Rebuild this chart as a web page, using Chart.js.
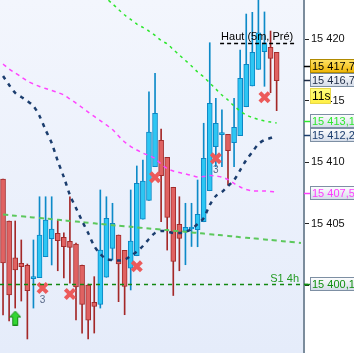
<!DOCTYPE html>
<html>
<head>
<meta charset="utf-8">
<script src="https://cdn.jsdelivr.net/npm/chart.js@4.4.1/dist/chart.umd.min.js"></script>
<style>
    html, body { margin: 0; padding: 0; background: #fff; overflow: hidden; }
    canvas { display: block; }
</style>
</head>
<body>
<canvas id="priceChart" width="354" height="353"></canvas>
<script>
// candles (one per 1-min bar)
const opens = [15408.65, 15405.24, 15402.24, 15401.80, 15401.64, 15400.55, 15400.64, 15402.34, 15403.80, 15404.24,
    15403.92, 15403.59, 15403.37, 15401.64, 15400.04, 15398.64, 15398.47, 15400.67, 15403.02, 15404.10,
    15402.86, 15401.40, 15402.42, 15405.38, 15406.92, 15409.65, 15411.79, 15410.41, 15407.98, 15404.97,
    15404.40, 15404.59, 15404.53, 15405.18, 15407.70, 15411.28, 15412.25, 15412.28, 15411.60, 15412.17,
    15414.52, 15416.21, 15417.56, 15418.99, 15419.35, 15418.94];
const highs = [15408.65, 15405.24, 15405.24, 15403.70, 15401.75, 15403.70, 15407.21, 15407.21, 15407.21, 15405.32,
    15404.27, 15407.21, 15403.45, 15401.67, 15400.12, 15400.72, 15407.76, 15407.21, 15406.68, 15404.10,
    15402.86, 15407.76, 15409.71, 15410.19, 15415.74, 15417.24, 15412.71, 15410.41, 15407.98, 15407.21,
    15406.68, 15406.68, 15408.57, 15413.18, 15419.72, 15415.21, 15414.26, 15412.28, 15415.21, 15419.13,
    15422.05, 15422.19, 15424.00, 15422.22, 15420.67, 15418.94];
const lows = [15397.61, 15397.12, 15398.17, 15398.74, 15395.66, 15398.17, 15400.64, 15402.34, 15401.67, 15401.20,
    15400.61, 15400.20, 15397.20, 15396.14, 15395.66, 15396.14, 15398.17, 15400.67, 15402.07, 15398.69,
    15397.63, 15399.64, 15402.42, 15405.38, 15406.92, 15409.65, 15405.18, 15402.88, 15399.19, 15401.20,
    15401.69, 15403.17, 15403.15, 15405.18, 15407.70, 15409.65, 15409.65, 15408.16, 15409.65, 15412.17,
    15414.52, 15416.21, 15417.56, 15416.18, 15415.66, 15414.20];
const closes = [15401.83, 15399.23, 15401.26, 15401.53, 15399.58, 15400.72, 15404.10, 15405.32, 15404.59, 15403.64,
    15403.15, 15403.10, 15399.88, 15398.46, 15397.18, 15398.30, 15402.88, 15405.46, 15405.05, 15401.75,
    15399.92, 15403.62, 15408.30, 15408.49, 15412.47, 15413.99, 15408.92, 15405.54, 15401.95, 15403.82,
    15404.73, 15404.75, 15405.78, 15410.33, 15414.80, 15413.18, 15412.36, 15410.95, 15412.85, 15416.83,
    15417.97, 15418.94, 15420.53, 15419.72, 15418.45, 15416.64];

// indicators
const maDark = [15417.02, 15416.29, 15415.64, 15415.31, 15414.99, 15414.58, 15413.77, 15412.63, 15411.58, 15410.11,
    15408.81, 15407.35, 15406.30, 15405.24, 15404.27, 15403.21, 15402.56, 15402.15, 15402.07, 15402.03,
    15402.10, 15402.40, 15402.76, 15403.21, 15403.78, 15404.27, 15404.43, 15404.39, 15404.27, 15404.27,
    15404.35, 15404.59, 15405.00, 15405.48, 15406.54, 15407.27, 15407.60, 15408.08, 15408.57, 15409.38,
    15410.19, 15410.84, 15411.49, 15411.82, 15411.98, 15412.18];
const bandUpper = [null, null, null, null, null, null, null, null, null, null,
    null, null, null, null, 15424.73, 15424.25, 15423.76, 15423.31, 15422.88, 15422.42,
    15421.97, 15421.61, 15421.24, 15420.96, 15420.67, 15420.31, 15419.90, 15419.62, 15419.17, 15418.72,
    15418.28, 15417.83, 15417.34, 15416.94, 15416.45, 15415.96, 15415.47, 15415.07, 15414.58, 15414.18,
    15413.85, 15413.65, 15413.48, 15413.36, 15413.28, 15413.20];
const maPink = [15417.99, 15417.59, 15417.26, 15416.94, 15416.61, 15416.37, 15416.17, 15416.00, 15415.84, 15415.68,
    15415.47, 15415.15, 15414.82, 15414.46, 15414.09, 15413.73, 15413.40, 15413.04, 15412.67, 15412.14,
    15411.66, 15411.29, 15411.01, 15410.76, 15410.56, 15410.32, 15409.87, 15409.50, 15409.30, 15409.18,
    15409.06, 15408.94, 15408.81, 15408.85, 15408.94, 15408.90, 15408.81, 15408.61, 15408.29, 15408.00,
    15407.80, 15407.68, 15407.68, 15407.68, 15407.64, 15407.60];
const trendGreen = [15405.76, 15405.72, 15405.67, 15405.62, 15405.58, 15405.53, 15405.49, 15405.44, 15405.39, 15405.34,
    15405.29, 15405.25, 15405.20, 15405.15, 15405.10, 15405.05, 15405.00, 15404.95, 15404.90, 15404.86,
    15404.82, 15404.77, 15404.72, 15404.68, 15404.63, 15404.59, 15404.54, 15404.50, 15404.45, 15404.41,
    15404.36, 15404.31, 15404.27, 15404.22, 15404.17, 15404.12, 15404.08, 15404.03, 15403.98, 15403.93,
    15403.88, 15403.84, 15403.79, 15403.74, 15403.70, 15403.65, 15403.60, 15403.56, 15403.51, 15403.46];

// signals
const sellAt = [6.5, 11, 22, 25, 35, 43];
const sellPrice = [15399.80, 15399.31, 15401.56, 15408.79, 15410.33, 15415.29];
const sellCount = ['3', '', '', '', '3', ''];
const buyAt = [2];
const buyPrice = [15397.36];

// axis + levels
const yTicks = [15400, 15405, 15410, 15415, 15420];
const yMin = 15394.52;
const yMax = 15423.19;
const slotCount = 50;
const s1Level = 15400.1;
const s1Label = 'S1 4h';
const hautLevel = 15419.67;
const hautLabel = 'Haut (5m, Pré)';
const hautFrom = 35.7;
const hautTo = 48.2;
const tagPrices = [15417.7, 15416.7, 15413.1, 15412.2, 15407.5, 15400.1];
const timerText = '11s';

const FONT = '"Liberation Sans", Arial, sans-serif';

const tagStyles = [
    { top: '#ffe46a', bottom: '#f0b400', border: '#b08a00', text: '#000000', tick: '#000000' },
    { top: '#ffffff', bottom: '#d3dbe8', border: '#7d8fa3', text: '#1d2b45', tick: '#1d2b45' },
    { top: '#ffffff', bottom: '#d3dbe8', border: '#7d8fa3', text: '#30e830', tick: '#30e830' },
    { top: '#ffffff', bottom: '#d3dbe8', border: '#7d8fa3', text: '#1b3d6e', tick: '#1b3d6e' },
    { top: '#ffffff', bottom: '#d3dbe8', border: '#7d8fa3', text: '#ff3cff', tick: '#ff3cff' },
    { top: '#ffffff', bottom: '#d3dbe8', border: '#7d8fa3', text: '#119011', tick: '#119011' }
];

function fmtPrice(v, dec) {
    const parts = v.toFixed(dec).split('.');
    const head = parts[0].replace(/\B(?=(\d{3})+(?!\d))/g, ' ');
    return parts.length > 1 ? head + ',' + parts[1] : head;
}

function makeArrow() {
    const c = document.createElement('canvas');
    c.width = 12;
    c.height = 15;
    const g = c.getContext('2d');
    g.beginPath();
    g.moveTo(6, 0.5);
    g.lineTo(11.5, 6.5);
    g.lineTo(8.5, 6.5);
    g.lineTo(8.5, 14.5);
    g.lineTo(3.5, 14.5);
    g.lineTo(3.5, 6.5);
    g.lineTo(0.5, 6.5);
    g.closePath();
    g.fillStyle = '#33d633';
    g.fill();
    g.strokeStyle = '#168a16';
    g.lineWidth = 1;
    g.stroke();
    return c;
}

const idx = opens.map((_, i) => i);
const isUp = idx.map(i => closes[i] >= opens[i]);

const backdrop = {
    id: 'backdrop',
    beforeDraw(chart) {
        const { ctx, chartArea: a } = chart;
        ctx.save();
        ctx.fillStyle = '#ffffff';
        ctx.fillRect(0, 0, chart.width, chart.height);
        const grad = ctx.createLinearGradient(0, a.top, 0, a.bottom);
        grad.addColorStop(0, '#f3f6fd');
        grad.addColorStop(1, '#e5ecfa');
        ctx.fillStyle = grad;
        ctx.fillRect(a.left, a.top, a.right - a.left, a.bottom - a.top);
        ctx.restore();
    }
};

const levels = {
    id: 'levels',
    afterDatasetsDraw(chart) {
        const { ctx, chartArea: a } = chart;
        const x = chart.scales.x;
        const y = chart.scales.y;
        ctx.save();

        // S1 4h support
        const ys = Math.round(y.getPixelForValue(s1Level)) + 0.5;
        ctx.setLineDash([4, 4]);
        ctx.lineWidth = 1.5;
        ctx.strokeStyle = '#118811';
        ctx.beginPath();
        ctx.moveTo(a.left, ys);
        ctx.lineTo(a.right + 6, ys);
        ctx.stroke();
        ctx.setLineDash([]);
        ctx.font = '11px ' + FONT;
        ctx.fillStyle = '#239a23';
        ctx.textAlign = 'right';
        ctx.textBaseline = 'alphabetic';
        ctx.fillText(s1Label, a.right - 5, ys - 3);

        // previous 5m high
        const yh = Math.round(y.getPixelForValue(hautLevel)) + 0.5;
        const x0 = x.getPixelForValue(hautFrom);
        const x1 = x.getPixelForValue(hautTo);
        ctx.setLineDash([4, 3]);
        ctx.strokeStyle = '#000000';
        ctx.lineWidth = 1.5;
        ctx.beginPath();
        ctx.moveTo(x0, yh);
        ctx.lineTo(x1, yh);
        ctx.stroke();
        ctx.setLineDash([]);
        ctx.fillStyle = '#000000';
        ctx.textAlign = 'left';
        ctx.fillText(hautLabel, x0 + 1, yh - 3.5);

        // counts under the sell marks
        ctx.font = '10px ' + FONT;
        ctx.fillStyle = '#5a6a8a';
        ctx.textAlign = 'center';
        ctx.textBaseline = 'middle';
        sellAt.forEach((s, i) => {
            if (!sellCount[i]) return;
            ctx.fillText(sellCount[i], x.getPixelForValue(s), y.getPixelForValue(sellPrice[i]) + 12);
        });
        ctx.restore();
    }
};

const priceTags = {
    id: 'priceTags',
    afterDraw(chart) {
        const { ctx, chartArea: a } = chart;
        const y = chart.scales.y;
        const boxH = 14;
        const left = a.right + 6;

        // push boxes apart, lowest price first
        const order = tagPrices.map((p, i) => i).sort((p, q) => tagPrices[p] - tagPrices[q]);
        const centers = [];
        let prev = null;
        order.forEach(i => {
            let c = y.getPixelForValue(tagPrices[i]);
            if (prev !== null && c > prev - boxH) c = prev - boxH;
            centers[i] = c;
            prev = c;
        });

        ctx.save();
        ctx.font = '11px ' + FONT;
        ctx.textBaseline = 'middle';
        ctx.textAlign = 'left';
        tagPrices.forEach((p, i) => {
            const st = tagStyles[i];
            const c = Math.round(centers[i]);
            ctx.strokeStyle = st.tick;
            ctx.lineWidth = 1.5;
            ctx.beginPath();
            ctx.moveTo(a.right, c + 0.5);
            ctx.lineTo(left, c + 0.5);
            ctx.stroke();
            const top = c - boxH / 2;
            const g = ctx.createLinearGradient(0, top, 0, top + boxH);
            g.addColorStop(0, st.top);
            g.addColorStop(1, st.bottom);
            ctx.fillStyle = g;
            ctx.fillRect(left, top, 60, boxH);
            ctx.strokeStyle = st.border;
            ctx.lineWidth = 1;
            ctx.strokeRect(left + 0.5, top + 0.5, 60, boxH - 1);
            ctx.fillStyle = st.text;
            ctx.fillText(fmtPrice(p, 1), left + 2, c + 0.5);
        });

        // bar countdown under the last price
        const tc = Math.round(centers[1]) + 16;
        const tt = tc - 8;
        const tg = ctx.createLinearGradient(0, tt, 0, tt + 16);
        tg.addColorStop(0, '#ffff80');
        tg.addColorStop(1, '#ffee40');
        ctx.fillStyle = tg;
        ctx.fillRect(left, tt, 21, 16);
        ctx.strokeStyle = '#e8d84a';
        ctx.strokeRect(left + 0.5, tt + 0.5, 20, 15);
        ctx.fillStyle = '#000000';
        ctx.font = '12px ' + FONT;
        ctx.fillText(timerText, left + 2, tc + 0.5);
        ctx.restore();
    }
};

new Chart(document.getElementById('priceChart'), {
    data: {
        datasets: [
            {
                type: 'line',
                data: trendGreen.map((v, i) => ({ x: i, y: v })),
                borderColor: '#5cc85c',
                borderWidth: 2,
                borderDash: [5, 4],
                pointRadius: 0,
                tension: 0.2,
                order: 3
            },
            {
                type: 'line',
                data: maPink.map((v, i) => ({ x: i, y: v })),
                borderColor: '#ff44ff',
                borderWidth: 1.5,
                borderDash: [4, 4],
                pointRadius: 0,
                tension: 0.3,
                order: 3
            },
            {
                type: 'line',
                data: bandUpper.map((v, i) => ({ x: i, y: v })),
                borderColor: '#2ee62e',
                borderWidth: 1.5,
                borderDash: [3, 4],
                pointRadius: 0,
                tension: 0.3,
                order: 3
            },
            {
                type: 'line',
                data: maDark.map((v, i) => ({ x: i, y: v })),
                borderColor: '#1b3d6e',
                borderWidth: 2.5,
                borderDash: [4, 5],
                pointRadius: 0,
                tension: 0.3,
                order: 2
            },
            {
                type: 'bar',
                data: idx.map(i => ({ x: i, y: [lows[i], highs[i]] })),
                backgroundColor: idx.map(i => isUp[i] ? '#0d8ac8' : '#a42828'),
                borderWidth: 0,
                barThickness: 1,
                grouped: false,
                order: 6
            },
            {
                type: 'bar',
                data: idx.map(i => ({ x: i, y: [opens[i], closes[i]] })),
                backgroundColor: idx.map(i => isUp[i] ? '#2dc6f3' : '#e06262'),
                borderColor: idx.map(i => isUp[i] ? '#0c86c4' : '#a22c2c'),
                borderWidth: 1,
                borderSkipped: false,
                barThickness: 5,
                minBarLength: 2,
                grouped: false,
                order: 5
            },
            {
                type: 'scatter',
                data: sellAt.map((s, i) => ({ x: s, y: sellPrice[i] })),
                pointStyle: 'crossRot',
                pointRadius: 6.5,
                pointBorderWidth: 4,
                pointBorderColor: '#ec5a5a',
                pointBackgroundColor: '#ec5a5a',
                showLine: false,
                order: 1
            },
            {
                type: 'scatter',
                data: buyAt.map((s, i) => ({ x: s, y: buyPrice[i] })),
                pointStyle: makeArrow(),
                showLine: false,
                order: 1
            }
        ]
    },
    options: {
        responsive: false,
        devicePixelRatio: 1,
        animation: false,
        events: [],
        layout: { padding: 0, autoPadding: false },
        plugins: {
            legend: { display: false },
            tooltip: { enabled: false }
        },
        scales: {
            x: {
                type: 'linear',
                min: -0.5,
                max: slotCount - 0.5,
                offset: false,
                display: false
            },
            y: {
                position: 'right',
                min: yMin,
                max: yMax,
                afterBuildTicks: (scale) => {
                    scale.ticks = yTicks.map(v => ({ value: v }));
                },
                afterFit: (scale) => {
                    scale.width = 50;
                    scale.paddingTop = 0;
                    scale.paddingBottom = 0;
                },
                border: { display: true, color: '#7b8c9c', width: 2 },
                grid: {
                    drawOnChartArea: false,
                    drawTicks: true,
                    tickLength: 5,
                    color: '#222222'
                },
                ticks: {
                    padding: 2,
                    color: '#111111',
                    font: { family: FONT, size: 11 },
                    callback: (v) => fmtPrice(v, 0)
                }
            }
        }
    },
    plugins: [backdrop, levels, priceTags]
});
</script>
</body>
</html>
